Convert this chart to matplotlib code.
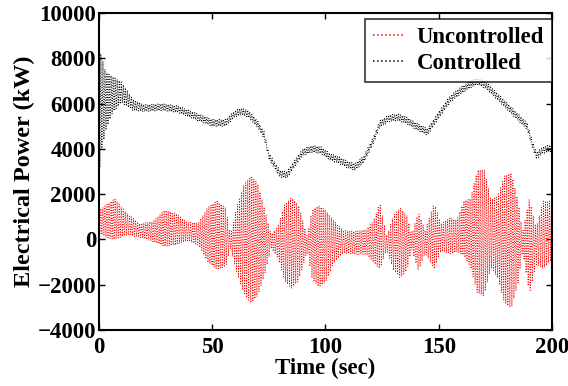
import numpy as np
import matplotlib
matplotlib.use('Agg')
import matplotlib.pyplot as plt

# envelope readings of the uncontrolled signal (time, centre, half amplitude)
unc_t = [0, 3, 7, 12, 18, 24, 29, 34, 39, 44, 48, 52, 56, 58, 61, 64, 67, 70, 73, 76, 79,
         82, 85, 88, 92, 94, 97, 100, 104, 108, 113, 118, 121, 124, 127, 130, 133, 136,
         138, 141, 144, 148, 151, 155, 158, 161, 164, 167, 170, 173, 176, 179, 182, 185,
         187, 190, 193, 196, 200]
unc_c = [800, 800, 900, 700, 400, 350, 500, 450, 350, 250, 200, 200, 100, -100, 0, 0, 0, 0,
         -100, -100, -100, -150, -150, -150, -200, -200, -300, -300, -100, -100, -150,
         -100, -100, 150, -150, -150, -150, -150, -100, -100, -100, 150, 100, 150, 150,
         500, 300, 350, 300, 250, 100, 0, -50, -100, -100, -300, -300, 200, 400]
unc_a = [500, 700, 900, 500, 300, 450, 800, 700, 400, 500, 1200, 1500, 1300, 300, 1500,
         2400, 2800, 2500, 1500, 300, 700, 1700, 2000, 1700, 300, 1500, 1800, 1600, 900,
         500, 500, 550, 900, 1450, 300, 1200, 1550, 1200, 300, 1300, 500, 1450, 600, 800,
         700, 1200, 1500, 2700, 2800, 1500, 1800, 2800, 3000, 1800, 400, 2100, 800, 1500, 1300]

# mean line of the controlled signal (time, centre, half amplitude)
con_t = [0, 1, 3, 6, 10, 15, 20, 28, 35, 40, 45, 50, 56, 60, 63, 66, 70, 73, 75, 78, 80,
         83, 86, 90, 94, 98, 102, 106, 110, 113, 117, 121, 124, 128, 132, 136, 140, 145,
         150, 155, 160, 164, 167, 171, 177, 183, 189, 191, 193, 196, 200]
con_m = [5500, 6000, 6100, 6400, 6500, 5950, 5800, 5850, 5750, 5550, 5350, 5150, 5150,
         5550, 5650, 5550, 5100, 4600, 3700, 3200, 2900, 2850, 3300, 3850, 4000, 3950,
         3650, 3500, 3300, 3200, 3550, 4350, 5100, 5350, 5400, 5250, 5000, 4750, 5500,
         6200, 6600, 6850, 7000, 6800, 6200, 5600, 5000, 4300, 3700, 3950, 4050]
con_a = [2800, 2200, 1300, 800, 450, 250, 150, 150, 150, 150, 150, 150, 150, 150, 150, 150,
         150, 150, 150, 150, 150, 150, 150, 150, 150, 150, 150, 150, 150, 150, 150, 150,
         150, 150, 150, 150, 150, 150, 150, 150, 150, 150, 150, 150, 150, 150, 150, 150,
         150, 150, 150]

half_period = 0.45
tp = np.arange(0, 200 + half_period / 2, half_period)
sign = np.where(np.arange(len(tp)) % 2 == 0, 1.0, -1.0)
unc = np.interp(tp, unc_t, unc_c) + sign * np.interp(tp, unc_t, unc_a)
con = np.interp(tp, con_t, con_m) + sign * np.interp(tp, con_t, con_a)

plt.rcParams['font.family'] = ['Liberation Serif', 'DejaVu Serif']
plt.rcParams['font.weight'] = 'bold'

fig = plt.figure(figsize=(5.68, 3.86), dpi=100)
ax = fig.add_axes([0.174, 0.145, 0.798, 0.821])
ax.plot(tp, unc, color='red', linestyle=':', linewidth=0.7, label='Uncontrolled')
ax.plot(tp, con, color='black', linestyle=':', linewidth=0.7, label='Controlled')

ax.set_xlim(0, 200)
ax.set_ylim(-4000, 10000)
ax.set_xticks([0, 50, 100, 150, 200])
ax.set_yticks(np.arange(-4000, 10001, 2000))
ax.tick_params(direction='in', top=True, right=True, labelsize=16.5, length=4, width=1,
               pad=2)
ax.tick_params(axis='x', pad=5)
for lab in ax.get_xticklabels() + ax.get_yticklabels():
    lab.set_fontweight('bold')
for s in ax.spines.values():
    s.set_linewidth(1.5)
ax.set_xlabel('Time (sec)', fontsize=16.5, fontweight='bold', labelpad=0)
ax.set_ylabel('Electrical Power (kW)', fontsize=17.5, fontweight='bold', labelpad=2)

leg = ax.legend(loc='upper right', bbox_to_anchor=(1.0, 0.981), fontsize=16.4,
                frameon=True, fancybox=False, edgecolor='black', handlelength=1.4,
                borderpad=0.35, labelspacing=0.22, handletextpad=0.5, borderaxespad=0)
leg.get_frame().set_linewidth(1.2)
for ln in leg.get_lines():
    ln.set_linewidth(1.1)
for t in leg.get_texts():
    t.set_fontweight('bold')

fig.savefig('out.png', dpi=100)
